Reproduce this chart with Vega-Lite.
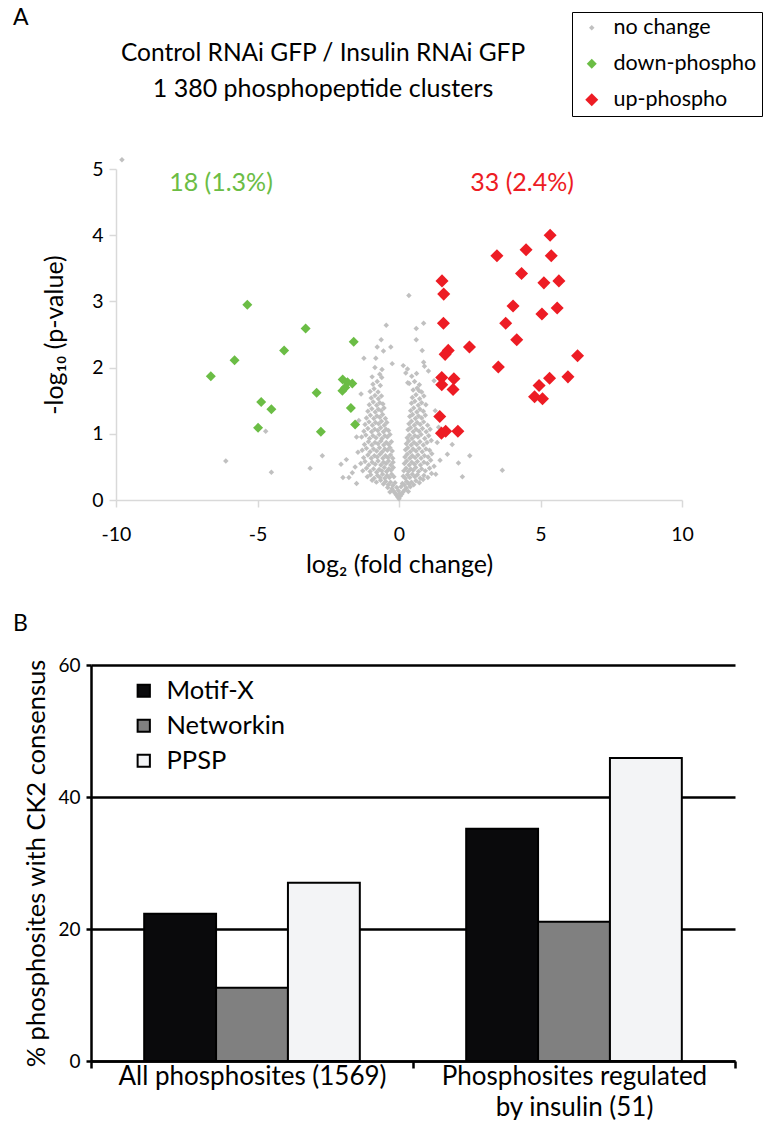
{
  "$schema": "https://vega.github.io/schema/vega-lite/v6.json",
  "background": "white",
  "padding": {"left": 12, "top": 6, "right": 0, "bottom": 0},
  "title": {"text": "A", "anchor": "start", "frame": "bounds", "fontSize": 23, "dy": 22},
  "bounds": "flush",
  "spacing": 165,
  "resolve": {
    "scale": {"x": "independent", "y": "independent", "color": "shared", "size": "shared", "fill": "independent"},
    "axis": {"x": "independent", "y": "independent"},
    "legend": {"color": "shared", "size": "shared", "fill": "independent"}
  },
  "config": {
    "font": "Lato",
    "view": {"stroke": null},
    "axis": {"labelFont": "Lato", "titleFont": "Lato", "labelColor": "#000", "titleColor": "#000", "titleFontWeight": "normal"},
    "legend": {"labelFont": "Lato", "labelColor": "#000"},
    "title": {"font": "Lato", "subtitleFont": "Lato", "color": "#000", "subtitleColor": "#000", "fontWeight": "normal"}
  },
  "vconcat": [
    {
      "width": 600,
      "height": 331,
      "title": {"text": "Control RNAi GFP / Insulin RNAi GFP", "subtitle": "1 380 phosphopeptide clusters", "anchor": "middle", "frame": "group", "dx": -68, "fontSize": 24.5, "subtitleFontSize": 25, "subtitlePadding": 10, "offset": 54},
      "data": {"values": [
        {"x": -9.79, "y": 5.14, "s": "no change"},
        {"x": -6.12, "y": 0.59, "s": "no change"},
        {"x": -4.51, "y": 0.42, "s": "no change"},
        {"x": -4.71, "y": 1.04, "s": "no change"},
        {"x": -3.14, "y": 0.48, "s": "no change"},
        {"x": -2.71, "y": 0.67, "s": "no change"},
        {"x": -2.05, "y": 0.54, "s": "no change"},
        {"x": -1.86, "y": 0.61, "s": "no change"},
        {"x": -1.98, "y": 0.34, "s": "no change"},
        {"x": -1.77, "y": 0.34, "s": "no change"},
        {"x": -1.65, "y": 0.41, "s": "no change"},
        {"x": -1.5, "y": 0.25, "s": "no change"},
        {"x": -1.45, "y": 0.72, "s": "no change"},
        {"x": -1.5, "y": 0.95, "s": "no change"},
        {"x": -1.55, "y": 0.5, "s": "no change"},
        {"x": -1.42, "y": 1.2, "s": "no change"},
        {"x": -0.45, "y": 2.64, "s": "no change"},
        {"x": -1.34, "y": 1.6, "s": "no change"},
        {"x": -1.24, "y": 2.14, "s": "no change"},
        {"x": -0.63, "y": 2.42, "s": "no change"},
        {"x": -0.77, "y": 2.31, "s": "no change"},
        {"x": -0.55, "y": 2.25, "s": "no change"},
        {"x": -0.29, "y": 2.31, "s": "no change"},
        {"x": -0.82, "y": 2.14, "s": "no change"},
        {"x": -0.24, "y": 2.06, "s": "no change"},
        {"x": -0.61, "y": 1.85, "s": "no change"},
        {"x": 0.35, "y": 3.09, "s": "no change"},
        {"x": 0.87, "y": 2.67, "s": "no change"},
        {"x": 0.61, "y": 2.59, "s": "no change"},
        {"x": 0.61, "y": 2.42, "s": "no change"},
        {"x": 0.82, "y": 2.26, "s": "no change"},
        {"x": 0.87, "y": 2.08, "s": "no change"},
        {"x": 1.04, "y": 1.95, "s": "no change"},
        {"x": 0.15, "y": 2.03, "s": "no change"},
        {"x": 0.24, "y": 1.92, "s": "no change"},
        {"x": 0.31, "y": 1.77, "s": "no change"},
        {"x": 1.24, "y": 1.8, "s": "no change"},
        {"x": 0.71, "y": 1.65, "s": "no change"},
        {"x": 1.35, "y": 0.87, "s": "no change"},
        {"x": 1.88, "y": 0.84, "s": "no change"},
        {"x": 1.71, "y": 0.69, "s": "no change"},
        {"x": 2.5, "y": 0.67, "s": "no change"},
        {"x": 2.1, "y": 0.56, "s": "no change"},
        {"x": 2.24, "y": 0.35, "s": "no change"},
        {"x": 1.24, "y": 0.51, "s": "no change"},
        {"x": 1.3, "y": 0.39, "s": "no change"},
        {"x": 3.65, "y": 0.45, "s": "no change"},
        {"x": 1.4, "y": 1.1, "s": "no change"},
        {"x": 1.45, "y": 0.6, "s": "no change"},
        {"x": 1.28, "y": 1.35, "s": "no change"},
        {"x": 0, "y": 0.02, "s": "no change"},
        {"x": -0.05, "y": 0.05, "s": "no change"},
        {"x": 0.05, "y": 0.06, "s": "no change"},
        {"x": -0.1, "y": 0.08, "s": "no change"},
        {"x": 0.1, "y": 0.09, "s": "no change"},
        {"x": -0.15, "y": 0.11, "s": "no change"},
        {"x": 0.14, "y": 0.12, "s": "no change"},
        {"x": -0.2, "y": 0.14, "s": "no change"},
        {"x": 0.2, "y": 0.15, "s": "no change"},
        {"x": -0.25, "y": 0.17, "s": "no change"},
        {"x": 0.26, "y": 0.18, "s": "no change"},
        {"x": 0.02, "y": 0.1, "s": "no change"},
        {"x": -0.02, "y": 0.14, "s": "no change"},
        {"x": -0.32, "y": 0.12, "s": "no change"},
        {"x": 0.33, "y": 0.13, "s": "no change"},
        {"x": -0.4, "y": 0.19, "s": "no change"},
        {"x": 0.4, "y": 0.2, "s": "no change"},
        {"x": -0.08, "y": 0.19, "s": "no change"},
        {"x": 0.07, "y": 0.2, "s": "no change"},
        {"x": -0.55, "y": 0.24, "s": "no change"},
        {"x": -0.47, "y": 0.28, "s": "no change"},
        {"x": -0.38, "y": 0.23, "s": "no change"},
        {"x": -0.3, "y": 0.27, "s": "no change"},
        {"x": -0.22, "y": 0.22, "s": "no change"},
        {"x": -0.14, "y": 0.26, "s": "no change"},
        {"x": 0.12, "y": 0.25, "s": "no change"},
        {"x": 0.19, "y": 0.23, "s": "no change"},
        {"x": 0.27, "y": 0.28, "s": "no change"},
        {"x": 0.35, "y": 0.24, "s": "no change"},
        {"x": 0.44, "y": 0.27, "s": "no change"},
        {"x": 0.52, "y": 0.23, "s": "no change"},
        {"x": 0.6, "y": 0.29, "s": "no change"},
        {"x": -0.65, "y": 0.3, "s": "no change"},
        {"x": -0.8, "y": 0.27, "s": "no change"},
        {"x": 0.72, "y": 0.26, "s": "no change"},
        {"x": -0.95, "y": 0.3, "s": "no change"},
        {"x": 0.85, "y": 0.31, "s": "no change"},
        {"x": -1.12, "y": 0.35, "s": "no change"},
        {"x": -1.0, "y": 0.38, "s": "no change"},
        {"x": -0.88, "y": 0.33, "s": "no change"},
        {"x": -0.76, "y": 0.37, "s": "no change"},
        {"x": -0.67, "y": 0.34, "s": "no change"},
        {"x": -0.58, "y": 0.39, "s": "no change"},
        {"x": -0.5, "y": 0.33, "s": "no change"},
        {"x": -0.42, "y": 0.37, "s": "no change"},
        {"x": -0.34, "y": 0.34, "s": "no change"},
        {"x": -0.26, "y": 0.39, "s": "no change"},
        {"x": -0.18, "y": 0.35, "s": "no change"},
        {"x": 0.15, "y": 0.36, "s": "no change"},
        {"x": 0.22, "y": 0.33, "s": "no change"},
        {"x": 0.3, "y": 0.38, "s": "no change"},
        {"x": 0.38, "y": 0.34, "s": "no change"},
        {"x": 0.47, "y": 0.39, "s": "no change"},
        {"x": 0.56, "y": 0.35, "s": "no change"},
        {"x": 0.65, "y": 0.38, "s": "no change"},
        {"x": 0.75, "y": 0.33, "s": "no change"},
        {"x": 0.88, "y": 0.37, "s": "no change"},
        {"x": 1.02, "y": 0.34, "s": "no change"},
        {"x": 1.15, "y": 0.4, "s": "no change"},
        {"x": -1.28, "y": 0.44, "s": "no change"},
        {"x": -1.15, "y": 0.48, "s": "no change"},
        {"x": -1.02, "y": 0.43, "s": "no change"},
        {"x": -0.9, "y": 0.47, "s": "no change"},
        {"x": -0.79, "y": 0.42, "s": "no change"},
        {"x": -0.7, "y": 0.46, "s": "no change"},
        {"x": -0.61, "y": 0.44, "s": "no change"},
        {"x": -0.52, "y": 0.49, "s": "no change"},
        {"x": -0.44, "y": 0.43, "s": "no change"},
        {"x": -0.36, "y": 0.47, "s": "no change"},
        {"x": -0.28, "y": 0.45, "s": "no change"},
        {"x": -0.2, "y": 0.49, "s": "no change"},
        {"x": 0.17, "y": 0.44, "s": "no change"},
        {"x": 0.25, "y": 0.48, "s": "no change"},
        {"x": 0.33, "y": 0.43, "s": "no change"},
        {"x": 0.41, "y": 0.47, "s": "no change"},
        {"x": 0.5, "y": 0.45, "s": "no change"},
        {"x": 0.59, "y": 0.49, "s": "no change"},
        {"x": 0.69, "y": 0.43, "s": "no change"},
        {"x": 0.8, "y": 0.47, "s": "no change"},
        {"x": 0.93, "y": 0.44, "s": "no change"},
        {"x": 1.08, "y": 0.48, "s": "no change"},
        {"x": -1.35, "y": 0.55, "s": "no change"},
        {"x": -1.2, "y": 0.58, "s": "no change"},
        {"x": -1.07, "y": 0.53, "s": "no change"},
        {"x": -0.95, "y": 0.57, "s": "no change"},
        {"x": -0.84, "y": 0.54, "s": "no change"},
        {"x": -0.74, "y": 0.59, "s": "no change"},
        {"x": -0.64, "y": 0.53, "s": "no change"},
        {"x": -0.55, "y": 0.57, "s": "no change"},
        {"x": -0.46, "y": 0.55, "s": "no change"},
        {"x": -0.37, "y": 0.59, "s": "no change"},
        {"x": -0.29, "y": 0.53, "s": "no change"},
        {"x": -0.21, "y": 0.57, "s": "no change"},
        {"x": 0.19, "y": 0.55, "s": "no change"},
        {"x": 0.27, "y": 0.59, "s": "no change"},
        {"x": 0.36, "y": 0.53, "s": "no change"},
        {"x": 0.45, "y": 0.57, "s": "no change"},
        {"x": 0.55, "y": 0.54, "s": "no change"},
        {"x": 0.65, "y": 0.58, "s": "no change"},
        {"x": 0.76, "y": 0.53, "s": "no change"},
        {"x": 0.88, "y": 0.57, "s": "no change"},
        {"x": 1.0, "y": 0.55, "s": "no change"},
        {"x": 1.12, "y": 0.6, "s": "no change"},
        {"x": -1.25, "y": 0.64, "s": "no change"},
        {"x": -1.1, "y": 0.68, "s": "no change"},
        {"x": -0.98, "y": 0.63, "s": "no change"},
        {"x": -0.87, "y": 0.67, "s": "no change"},
        {"x": -0.77, "y": 0.65, "s": "no change"},
        {"x": -0.67, "y": 0.69, "s": "no change"},
        {"x": -0.57, "y": 0.63, "s": "no change"},
        {"x": -0.48, "y": 0.67, "s": "no change"},
        {"x": -0.39, "y": 0.64, "s": "no change"},
        {"x": -0.3, "y": 0.68, "s": "no change"},
        {"x": -0.22, "y": 0.63, "s": "no change"},
        {"x": 0.21, "y": 0.65, "s": "no change"},
        {"x": 0.29, "y": 0.69, "s": "no change"},
        {"x": 0.38, "y": 0.63, "s": "no change"},
        {"x": 0.47, "y": 0.67, "s": "no change"},
        {"x": 0.57, "y": 0.64, "s": "no change"},
        {"x": 0.67, "y": 0.68, "s": "no change"},
        {"x": 0.78, "y": 0.63, "s": "no change"},
        {"x": 0.9, "y": 0.67, "s": "no change"},
        {"x": 1.03, "y": 0.65, "s": "no change"},
        {"x": 1.16, "y": 0.7, "s": "no change"},
        {"x": -1.3, "y": 0.75, "s": "no change"},
        {"x": -1.15, "y": 0.78, "s": "no change"},
        {"x": -1.02, "y": 0.73, "s": "no change"},
        {"x": -0.9, "y": 0.77, "s": "no change"},
        {"x": -0.79, "y": 0.74, "s": "no change"},
        {"x": -0.69, "y": 0.79, "s": "no change"},
        {"x": -0.59, "y": 0.73, "s": "no change"},
        {"x": -0.5, "y": 0.77, "s": "no change"},
        {"x": -0.41, "y": 0.75, "s": "no change"},
        {"x": -0.32, "y": 0.79, "s": "no change"},
        {"x": -0.24, "y": 0.74, "s": "no change"},
        {"x": 0.23, "y": 0.76, "s": "no change"},
        {"x": 0.31, "y": 0.79, "s": "no change"},
        {"x": 0.4, "y": 0.73, "s": "no change"},
        {"x": 0.5, "y": 0.77, "s": "no change"},
        {"x": 0.6, "y": 0.74, "s": "no change"},
        {"x": 0.71, "y": 0.78, "s": "no change"},
        {"x": 0.82, "y": 0.73, "s": "no change"},
        {"x": 0.95, "y": 0.77, "s": "no change"},
        {"x": 1.08, "y": 0.75, "s": "no change"},
        {"x": -1.22, "y": 0.84, "s": "no change"},
        {"x": -1.08, "y": 0.88, "s": "no change"},
        {"x": -0.96, "y": 0.83, "s": "no change"},
        {"x": -0.85, "y": 0.87, "s": "no change"},
        {"x": -0.74, "y": 0.85, "s": "no change"},
        {"x": -0.64, "y": 0.89, "s": "no change"},
        {"x": -0.54, "y": 0.83, "s": "no change"},
        {"x": -0.45, "y": 0.87, "s": "no change"},
        {"x": -0.36, "y": 0.84, "s": "no change"},
        {"x": -0.27, "y": 0.88, "s": "no change"},
        {"x": 0.26, "y": 0.85, "s": "no change"},
        {"x": 0.34, "y": 0.89, "s": "no change"},
        {"x": 0.43, "y": 0.83, "s": "no change"},
        {"x": 0.53, "y": 0.87, "s": "no change"},
        {"x": 0.63, "y": 0.84, "s": "no change"},
        {"x": 0.74, "y": 0.88, "s": "no change"},
        {"x": 0.86, "y": 0.83, "s": "no change"},
        {"x": 0.99, "y": 0.87, "s": "no change"},
        {"x": 1.14, "y": 0.9, "s": "no change"},
        {"x": -1.32, "y": 0.95, "s": "no change"},
        {"x": -1.17, "y": 0.98, "s": "no change"},
        {"x": -1.04, "y": 0.93, "s": "no change"},
        {"x": -0.92, "y": 0.97, "s": "no change"},
        {"x": -0.81, "y": 0.94, "s": "no change"},
        {"x": -0.7, "y": 0.99, "s": "no change"},
        {"x": -0.6, "y": 0.93, "s": "no change"},
        {"x": -0.5, "y": 0.97, "s": "no change"},
        {"x": -0.41, "y": 0.95, "s": "no change"},
        {"x": -0.32, "y": 0.99, "s": "no change"},
        {"x": 0.29, "y": 0.94, "s": "no change"},
        {"x": 0.37, "y": 0.98, "s": "no change"},
        {"x": 0.46, "y": 0.93, "s": "no change"},
        {"x": 0.56, "y": 0.97, "s": "no change"},
        {"x": 0.67, "y": 0.95, "s": "no change"},
        {"x": 0.78, "y": 0.99, "s": "no change"},
        {"x": 0.91, "y": 0.93, "s": "no change"},
        {"x": 1.05, "y": 0.97, "s": "no change"},
        {"x": -1.24, "y": 1.04, "s": "no change"},
        {"x": -1.1, "y": 1.08, "s": "no change"},
        {"x": -0.97, "y": 1.03, "s": "no change"},
        {"x": -0.86, "y": 1.07, "s": "no change"},
        {"x": -0.75, "y": 1.05, "s": "no change"},
        {"x": -0.65, "y": 1.09, "s": "no change"},
        {"x": -0.55, "y": 1.03, "s": "no change"},
        {"x": -0.46, "y": 1.07, "s": "no change"},
        {"x": -0.37, "y": 1.05, "s": "no change"},
        {"x": 0.32, "y": 1.06, "s": "no change"},
        {"x": 0.41, "y": 1.09, "s": "no change"},
        {"x": 0.5, "y": 1.03, "s": "no change"},
        {"x": 0.6, "y": 1.07, "s": "no change"},
        {"x": 0.71, "y": 1.04, "s": "no change"},
        {"x": 0.83, "y": 1.08, "s": "no change"},
        {"x": 0.96, "y": 1.03, "s": "no change"},
        {"x": 1.1, "y": 1.07, "s": "no change"},
        {"x": -1.2, "y": 1.14, "s": "no change"},
        {"x": -1.06, "y": 1.18, "s": "no change"},
        {"x": -0.94, "y": 1.13, "s": "no change"},
        {"x": -0.83, "y": 1.17, "s": "no change"},
        {"x": -0.72, "y": 1.15, "s": "no change"},
        {"x": -0.62, "y": 1.19, "s": "no change"},
        {"x": -0.52, "y": 1.13, "s": "no change"},
        {"x": -0.43, "y": 1.17, "s": "no change"},
        {"x": 0.35, "y": 1.15, "s": "no change"},
        {"x": 0.44, "y": 1.19, "s": "no change"},
        {"x": 0.54, "y": 1.13, "s": "no change"},
        {"x": 0.64, "y": 1.17, "s": "no change"},
        {"x": 0.75, "y": 1.14, "s": "no change"},
        {"x": 0.87, "y": 1.18, "s": "no change"},
        {"x": 1.01, "y": 1.13, "s": "no change"},
        {"x": -1.15, "y": 1.24, "s": "no change"},
        {"x": -1.01, "y": 1.28, "s": "no change"},
        {"x": -0.89, "y": 1.23, "s": "no change"},
        {"x": -0.78, "y": 1.27, "s": "no change"},
        {"x": -0.68, "y": 1.25, "s": "no change"},
        {"x": -0.58, "y": 1.29, "s": "no change"},
        {"x": -0.48, "y": 1.23, "s": "no change"},
        {"x": 0.38, "y": 1.26, "s": "no change"},
        {"x": 0.48, "y": 1.29, "s": "no change"},
        {"x": 0.58, "y": 1.23, "s": "no change"},
        {"x": 0.69, "y": 1.27, "s": "no change"},
        {"x": 0.8, "y": 1.24, "s": "no change"},
        {"x": 0.93, "y": 1.28, "s": "no change"},
        {"x": -1.1, "y": 1.34, "s": "no change"},
        {"x": -0.96, "y": 1.38, "s": "no change"},
        {"x": -0.84, "y": 1.33, "s": "no change"},
        {"x": -0.73, "y": 1.37, "s": "no change"},
        {"x": -0.63, "y": 1.35, "s": "no change"},
        {"x": -0.53, "y": 1.39, "s": "no change"},
        {"x": 0.41, "y": 1.35, "s": "no change"},
        {"x": 0.52, "y": 1.39, "s": "no change"},
        {"x": 0.63, "y": 1.33, "s": "no change"},
        {"x": 0.74, "y": 1.37, "s": "no change"},
        {"x": 0.86, "y": 1.34, "s": "no change"},
        {"x": -1.05, "y": 1.44, "s": "no change"},
        {"x": -0.91, "y": 1.48, "s": "no change"},
        {"x": -0.79, "y": 1.43, "s": "no change"},
        {"x": -0.68, "y": 1.47, "s": "no change"},
        {"x": -0.57, "y": 1.45, "s": "no change"},
        {"x": 0.44, "y": 1.46, "s": "no change"},
        {"x": 0.56, "y": 1.49, "s": "no change"},
        {"x": 0.68, "y": 1.43, "s": "no change"},
        {"x": 0.8, "y": 1.47, "s": "no change"},
        {"x": 0.95, "y": 1.44, "s": "no change"},
        {"x": -0.98, "y": 1.54, "s": "no change"},
        {"x": -0.85, "y": 1.58, "s": "no change"},
        {"x": -0.73, "y": 1.53, "s": "no change"},
        {"x": -0.62, "y": 1.57, "s": "no change"},
        {"x": 0.47, "y": 1.55, "s": "no change"},
        {"x": 0.6, "y": 1.59, "s": "no change"},
        {"x": 0.73, "y": 1.53, "s": "no change"},
        {"x": 0.88, "y": 1.57, "s": "no change"},
        {"x": -1.02, "y": 1.64, "s": "no change"},
        {"x": -0.88, "y": 1.68, "s": "no change"},
        {"x": -0.74, "y": 1.63, "s": "no change"},
        {"x": 0.5, "y": 1.66, "s": "no change"},
        {"x": 0.64, "y": 1.69, "s": "no change"},
        {"x": 0.8, "y": 1.63, "s": "no change"},
        {"x": -0.92, "y": 1.75, "s": "no change"},
        {"x": -0.77, "y": 1.79, "s": "no change"},
        {"x": -0.66, "y": 1.73, "s": "no change"},
        {"x": 0.36, "y": 1.76, "s": "no change"},
        {"x": 0.55, "y": 1.79, "s": "no change"},
        {"x": 0.72, "y": 1.74, "s": "no change"},
        {"x": -0.95, "y": 1.86, "s": "no change"},
        {"x": -0.68, "y": 1.9, "s": "no change"},
        {"x": 0.45, "y": 1.87, "s": "no change"},
        {"x": 0.62, "y": 1.91, "s": "no change"},
        {"x": -0.85, "y": 2.0, "s": "no change"},
        {"x": -0.6, "y": 1.97, "s": "no change"},
        {"x": 0.3, "y": 1.98, "s": "no change"},
        {"x": 0.9, "y": 2.02, "s": "no change"},
        {"x": -6.65, "y": 1.87, "s": "down-phospho"},
        {"x": -5.81, "y": 2.11, "s": "down-phospho"},
        {"x": -5.36, "y": 2.95, "s": "down-phospho"},
        {"x": -4.87, "y": 1.48, "s": "down-phospho"},
        {"x": -4.51, "y": 1.37, "s": "down-phospho"},
        {"x": -4.98, "y": 1.09, "s": "down-phospho"},
        {"x": -4.06, "y": 2.26, "s": "down-phospho"},
        {"x": -3.3, "y": 2.59, "s": "down-phospho"},
        {"x": -2.91, "y": 1.62, "s": "down-phospho"},
        {"x": -2.76, "y": 1.03, "s": "down-phospho"},
        {"x": -1.6, "y": 2.39, "s": "down-phospho"},
        {"x": -1.99, "y": 1.82, "s": "down-phospho"},
        {"x": -2.0, "y": 1.65, "s": "down-phospho"},
        {"x": -1.65, "y": 1.76, "s": "down-phospho"},
        {"x": -1.7, "y": 1.39, "s": "down-phospho"},
        {"x": -1.55, "y": 1.14, "s": "down-phospho"},
        {"x": -1.9, "y": 1.7, "s": "down-phospho"},
        {"x": -1.82, "y": 1.78, "s": "down-phospho"},
        {"x": 5.34, "y": 4.0, "s": "up-phospho"},
        {"x": 3.46, "y": 3.69, "s": "up-phospho"},
        {"x": 4.49, "y": 3.78, "s": "up-phospho"},
        {"x": 5.38, "y": 3.69, "s": "up-phospho"},
        {"x": 4.33, "y": 3.42, "s": "up-phospho"},
        {"x": 5.12, "y": 3.28, "s": "up-phospho"},
        {"x": 5.65, "y": 3.31, "s": "up-phospho"},
        {"x": 1.52, "y": 3.31, "s": "up-phospho"},
        {"x": 1.58, "y": 3.11, "s": "up-phospho"},
        {"x": 4.03, "y": 2.93, "s": "up-phospho"},
        {"x": 5.59, "y": 2.9, "s": "up-phospho"},
        {"x": 5.05, "y": 2.81, "s": "up-phospho"},
        {"x": 3.77, "y": 2.67, "s": "up-phospho"},
        {"x": 1.57, "y": 2.67, "s": "up-phospho"},
        {"x": 4.16, "y": 2.42, "s": "up-phospho"},
        {"x": 2.49, "y": 2.31, "s": "up-phospho"},
        {"x": 1.74, "y": 2.26, "s": "up-phospho"},
        {"x": 1.63, "y": 2.2, "s": "up-phospho"},
        {"x": 6.31, "y": 2.18, "s": "up-phospho"},
        {"x": 3.51, "y": 2.01, "s": "up-phospho"},
        {"x": 5.97, "y": 1.86, "s": "up-phospho"},
        {"x": 5.32, "y": 1.84, "s": "up-phospho"},
        {"x": 4.95, "y": 1.73, "s": "up-phospho"},
        {"x": 1.51, "y": 1.85, "s": "up-phospho"},
        {"x": 1.94, "y": 1.83, "s": "up-phospho"},
        {"x": 1.91, "y": 1.67, "s": "up-phospho"},
        {"x": 1.51, "y": 1.74, "s": "up-phospho"},
        {"x": 4.79, "y": 1.56, "s": "up-phospho"},
        {"x": 5.07, "y": 1.53, "s": "up-phospho"},
        {"x": 1.44, "y": 1.26, "s": "up-phospho"},
        {"x": 1.5, "y": 1.01, "s": "up-phospho"},
        {"x": 1.65, "y": 1.04, "s": "up-phospho"},
        {"x": 2.08, "y": 1.04, "s": "up-phospho"}
      ]},
      "layer": [
        {
          "mark": {"type": "point", "shape": "diamond", "filled": true, "opacity": 1},
          "encoding": {
            "x": {
              "field": "x", "type": "quantitative",
              "scale": {"domain": [-10, 10], "range": [25, 591], "nice": false, "zero": false},
              "axis": {"values": [-10, -5, 0, 5, 10], "labelExpr": "'' + datum.value", "labelFlush": false, "grid": false, "domainColor": "#d9d9d9", "domainWidth": 1.5, "tickColor": "#d9d9d9", "tickWidth": 1.5, "tickSize": 7, "labelFontSize": 19.5, "labelPadding": 18, "title": "log₂ (fold change)", "titleFontSize": 25, "titlePadding": 9}
            },
            "y": {
              "field": "y", "type": "quantitative",
              "scale": {"domain": [0, 5], "nice": false, "zero": false},
              "axis": {"values": [0, 0.5, 1, 1.5, 2, 2.5, 3, 3.5, 4, 4.5, 5], "labelExpr": "datum.value % 1 == 0 ? '' + datum.value : ''", "labelFlush": false, "offset": -25, "grid": false, "domainColor": "#d9d9d9", "domainWidth": 1.5, "tickColor": "#d9d9d9", "tickWidth": 1.5, "tickSize": 7, "labelFontSize": 19.5, "labelPadding": 6, "title": "-log₁₀ (p-value)", "titleFontSize": 25, "titlePadding": 24}
            },
            "color": {
              "field": "s", "type": "nominal",
              "scale": {"domain": ["no change", "down-phospho", "up-phospho"], "range": ["#c0c0c0", "#6bbd45", "#ed1c24"]},
              "legend": {"orient": "none", "legendX": 481, "legendY": -157, "title": null, "strokeColor": "#000", "padding": 5, "labelFontSize": 21.5, "rowPadding": 13, "symbolOffset": 4, "labelOffset": 11, "symbolType": "diamond"}
            },
            "size": {
              "field": "s", "type": "nominal",
              "scale": {"domain": ["no change", "down-phospho", "up-phospho"], "range": [30, 170, 170]},
              "legend": {"orient": "none", "legendX": 481, "legendY": -157, "title": null, "strokeColor": "#000", "padding": 5, "labelFontSize": 21.5, "rowPadding": 13, "symbolOffset": 4, "labelOffset": 11, "symbolType": "diamond"}
            }
          }
        },
        {
          "data": {"values": [
            {"x": -6.29, "y": 4.79, "label": "18 (1.3%)", "s": "down-phospho"},
            {"x": 4.35, "y": 4.79, "label": "33 (2.4%)", "s": "up-phospho"}
          ]},
          "mark": {"type": "text", "fontSize": 25, "font": "Lato"},
          "encoding": {
            "x": {"field": "x", "type": "quantitative"},
            "y": {"field": "y", "type": "quantitative"},
            "text": {"field": "label"},
            "color": {"field": "s", "type": "nominal", "legend": null}
          }
        }
      ]
    },
    {
      "width": 644,
      "height": 396,
      "title": {"text": "B", "anchor": "start", "frame": "bounds", "dx": -12, "fontSize": 23, "offset": 20},
      "data": {"values": [
        {"group": "All phosphosites (1569)", "method": "Motif-X", "value": 22.3},
        {"group": "All phosphosites (1569)", "method": "Networkin", "value": 11.1},
        {"group": "All phosphosites (1569)", "method": "PPSP", "value": 27.0},
        {"group": "Phosphosites regulated by insulin (51)", "method": "Motif-X", "value": 35.2},
        {"group": "Phosphosites regulated by insulin (51)", "method": "Networkin", "value": 21.1},
        {"group": "Phosphosites regulated by insulin (51)", "method": "PPSP", "value": 45.9}
      ]},
      "mark": {"type": "bar", "stroke": "#000", "strokeWidth": 2},
      "encoding": {
        "x": {
          "field": "group", "type": "nominal",
          "scale": {"paddingInner": 0, "paddingOuter": 0},
          "axis": {"title": null, "labelAngle": 0, "tickBand": "extent", "domainColor": "#000", "domainWidth": 2.5, "tickColor": "#000", "tickWidth": 2.5, "tickSize": 7, "labelFontSize": 26, "labelLimit": 500, "labelPadding": -5, "labelLineHeight": 31, "labelExpr": "datum.label == 'Phosphosites regulated by insulin (51)' ? ['Phosphosites regulated', 'by insulin (51)'] : datum.label"}
        },
        "xOffset": {"field": "method", "type": "nominal", "sort": ["Motif-X", "Networkin", "PPSP"], "scale": {"paddingInner": 0, "paddingOuter": 0.74}},
        "y": {
          "field": "value", "type": "quantitative",
          "scale": {"domain": [0, 60], "nice": false},
          "axis": {"values": [0, 20, 40, 60], "grid": true, "gridColor": "#000", "gridWidth": 2.5, "domainColor": "#000", "domainWidth": 2.5, "tickColor": "#000", "tickWidth": 2.5, "tickSize": 5, "labelFontSize": 19, "labelPadding": 6, "title": "% phosphosites  with CK2 consensus", "titleFontSize": 25.5, "titlePadding": 8}
        },
        "fill": {
          "field": "method", "type": "nominal",
          "scale": {"domain": ["Motif-X", "Networkin", "PPSP"], "range": ["#0a0a0c", "#808080", "#f3f4f6"]},
          "legend": {"orient": "none", "legendX": 40, "legendY": 13, "title": null, "symbolType": "square", "symbolSize": 150, "symbolStrokeColor": "#000", "symbolStrokeWidth": 2, "labelFontSize": 25.5, "rowPadding": 8, "labelOffset": 10, "padding": 0}
        }
      }
    }
  ]
}
